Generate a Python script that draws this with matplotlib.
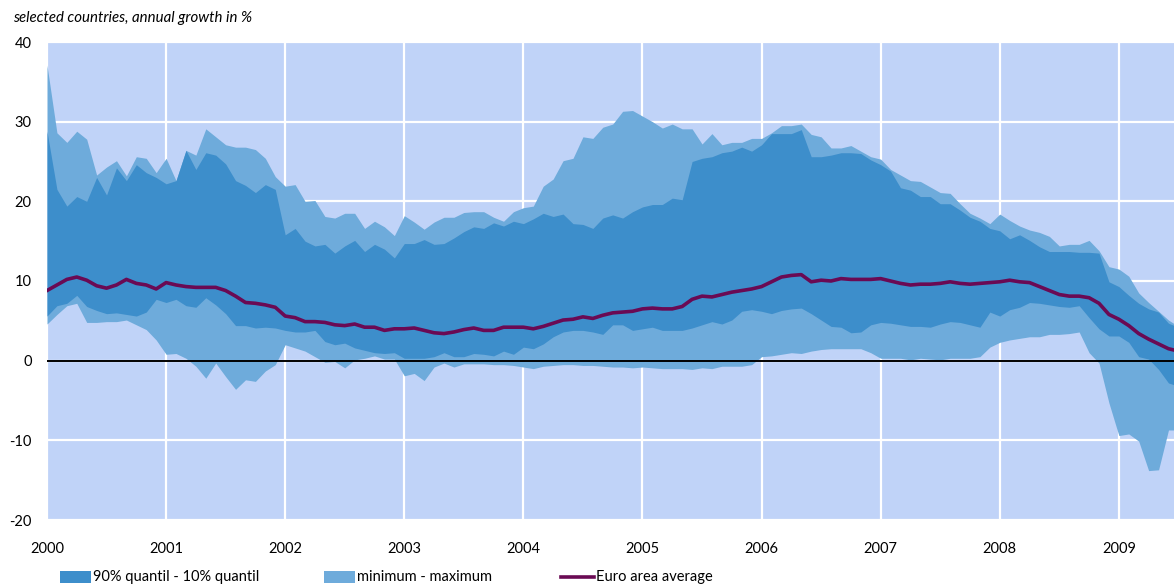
import numpy as np
import matplotlib.pyplot as plt
from matplotlib.patches import Rectangle
from matplotlib.lines import Line2D

# ---------------------------------------------------------------
# monthly data, Jan 2000 - Jul 2009 (annual growth in %)
# ---------------------------------------------------------------
start_year = 2000

maximum = [
    37.1, 28.6, 27.4, 28.8, 27.8, 23.3, 24.3, 25.1, 23.2, 25.6, 25.4, 23.6,
    25.4, 22.6, 26.4, 25.8, 29.1, 28.1, 27.1, 26.8, 26.8, 26.5, 25.4, 23.1,
    21.9, 22.1, 20.0, 20.1, 18.1, 17.9, 18.5, 18.5, 16.6, 17.5, 16.8, 15.7,
    18.2, 17.4, 16.5, 17.4, 18.0, 18.0, 18.6, 18.7, 18.7, 18.0, 17.5, 18.7,
    19.2, 19.4, 21.9, 22.8, 25.1, 25.4, 28.1, 27.9, 29.3, 29.7, 31.3, 31.4,
    30.7, 30.0, 29.2, 29.7, 29.1, 29.1, 27.2, 28.5, 27.1, 27.4, 27.4, 27.9,
    27.9, 28.6, 29.5, 29.5, 29.7, 28.4, 28.1, 26.7, 26.7, 27.0, 26.3, 25.6,
    25.3, 24.0, 23.3, 22.6, 22.5, 21.8, 21.1, 21.0, 19.7, 18.5, 17.9, 17.2,
    18.4, 17.6, 16.9, 16.4, 16.1, 15.6, 14.4, 14.6, 14.6, 15.1, 13.8, 11.8,
    11.5, 10.6, 8.5, 7.3, 6.2, 5.1, 4.3,
]

q90 = [
    28.8, 21.5, 19.4, 20.6, 20.0, 23.0, 20.8, 24.2, 22.6, 24.6, 23.6, 23.0,
    22.2, 22.6, 26.4, 24.0, 26.1, 25.8, 24.7, 22.6, 22.0, 21.1, 22.1, 21.5,
    15.8, 16.6, 15.0, 14.4, 14.6, 13.5, 14.4, 15.1, 13.7, 14.6, 14.0, 12.9,
    14.7, 14.7, 15.2, 14.6, 14.7, 15.4, 16.2, 16.8, 16.6, 17.3, 16.9, 17.5,
    17.2, 17.8, 18.5, 18.1, 18.4, 17.2, 17.1, 16.6, 17.9, 18.3, 17.9, 18.7,
    19.3, 19.6, 19.6, 20.4, 20.2, 25.0, 25.4, 25.6, 26.1, 26.3, 26.8, 26.3,
    27.1, 28.5, 28.5, 28.5, 29.0, 25.6, 25.6, 25.8, 26.1, 26.1, 26.0, 25.2,
    24.6, 23.8, 21.7, 21.4, 20.6, 20.6, 19.7, 19.7, 18.9, 18.0, 17.5, 16.6,
    16.3, 15.3, 15.8, 15.1, 14.3, 13.7, 13.7, 13.7, 13.6, 13.6, 13.5, 9.9,
    9.3, 8.2, 7.2, 6.5, 6.1, 4.7, 4.2,
]

euro_avg = [
    8.8, 9.5, 10.2, 10.5, 10.1, 9.4, 9.1, 9.5, 10.2, 9.7, 9.5, 9.0,
    9.8, 9.5, 9.3, 9.2, 9.2, 9.2, 8.8, 8.1, 7.3, 7.2, 7.0, 6.7,
    5.6, 5.4, 4.9, 4.9, 4.8, 4.5, 4.4, 4.6, 4.2, 4.2, 3.8, 4.0,
    4.0, 4.1, 3.8, 3.5, 3.4, 3.6, 3.9, 4.1, 3.8, 3.8, 4.2, 4.2,
    4.2, 4.0, 4.3, 4.7, 5.1, 5.2, 5.5, 5.3, 5.7, 6.0, 6.1, 6.2,
    6.5, 6.6, 6.5, 6.5, 6.8, 7.7, 8.1, 8.0, 8.3, 8.6, 8.8, 9.0,
    9.3, 9.9, 10.5, 10.7, 10.8, 9.9, 10.1, 10.0, 10.3, 10.2, 10.2, 10.2,
    10.3, 10.0, 9.7, 9.5, 9.6, 9.6, 9.7, 9.9, 9.7, 9.6, 9.7, 9.8,
    9.9, 10.1, 9.9, 9.8, 9.3, 8.8, 8.3, 8.1, 8.1, 7.9, 7.2, 5.8,
    5.2, 4.4, 3.4, 2.7, 2.1, 1.5, 1.2,
]

q10 = [
    5.6, 6.9, 7.2, 8.2, 6.8, 6.3, 5.9, 6.0, 5.8, 5.6, 6.1, 7.7,
    7.3, 7.7, 6.9, 6.7, 7.9, 7.0, 5.9, 4.4, 4.4, 4.1, 4.2, 4.1,
    3.8, 3.6, 3.6, 3.8, 2.4, 2.0, 2.2, 1.6, 1.3, 1.0, 0.9, 1.0,
    0.3, 0.3, 0.3, 0.5, 1.0, 0.5, 0.5, 0.9, 0.8, 0.6, 1.2, 0.8,
    1.7, 1.5, 2.1, 3.0, 3.6, 3.8, 3.8, 3.6, 3.3, 4.5, 4.5, 3.8,
    4.0, 4.2, 3.8, 3.8, 3.8, 4.1, 4.5, 4.9, 4.6, 5.1, 6.2, 6.4,
    6.2, 5.9, 6.3, 6.5, 6.6, 5.9, 5.1, 4.3, 4.2, 3.5, 3.6, 4.5,
    4.8, 4.7, 4.5, 4.3, 4.3, 4.2, 4.6, 4.9, 4.8, 4.5, 4.2, 6.1,
    5.6, 6.4, 6.7, 7.3, 7.2, 7.0, 6.8, 6.7, 6.9, 5.4, 4.0, 3.1,
    3.1, 2.3, 0.5, 0.2, -1.1, -2.8, -3.2,
]

minimum = [
    4.6, 5.8, 6.9, 7.2, 4.8, 4.8, 4.9, 4.9, 5.1, 4.5, 3.9, 2.6,
    0.8, 0.9, 0.3, -0.7, -2.2, -0.3, -2.0, -3.6, -2.4, -2.6, -1.3, -0.5,
    2.0, 1.6, 1.2, 0.5, -0.2, -0.1, -0.9, 0.1, 0.3, 0.6, 0.2, 0.2,
    -1.9, -1.6, -2.5, -0.8, -0.3, -0.8, -0.4, -0.4, -0.4, -0.5, -0.5, -0.6,
    -0.8, -1.0, -0.7, -0.6, -0.5, -0.5, -0.6, -0.6, -0.7, -0.8, -0.8, -0.9,
    -0.8, -0.9, -1.0, -1.0, -1.0, -1.1, -0.9, -1.0, -0.7, -0.7, -0.7, -0.5,
    0.5, 0.6, 0.8, 1.0, 0.9, 1.2, 1.4, 1.5, 1.5, 1.5, 1.5, 1.0,
    0.3, 0.3, 0.3, 0.1, 0.3, 0.2, 0.1, 0.3, 0.3, 0.3, 0.5, 1.7,
    2.3, 2.6, 2.8, 3.0, 3.0, 3.3, 3.3, 3.4, 3.6, 1.0, -0.3, -5.3,
    -9.4, -9.2, -10.1, -13.8, -13.7, -8.7, -8.7,
]

years = list(range(2000, 2010))
yticks = [-20, -10, 0, 10, 20, 30, 40]

title = "selected countries, annual growth in %"
lbl_quant = "90% quantil - 10% quantil"
lbl_minmax = "minimum - maximum"
lbl_avg = "Euro area average"

# colours
c_bg = "#c0d3f8"
c_minmax = "#6eabdb"
c_quant = "#3d8ecb"
c_avg = "#6a0a54"

plt.rcParams["font.family"] = ["Lato", "DejaVu Sans"]
plt.rcParams["axes.unicode_minus"] = False

W, H = 1174, 587
fig = plt.figure(figsize=(W / 100, H / 100), dpi=100)
ax = fig.add_axes([47 / W, 1 - 520 / H, (W - 47) / W, (520 - 42) / H])
ax.set_facecolor(c_bg)

x = start_year + np.arange(len(maximum)) / 12.0

ax.fill_between(x, minimum, maximum, color=c_minmax, lw=0, zorder=2)
ax.fill_between(x, q10, q90, color=c_quant, lw=0, zorder=3)
ax.axhline(0, color="black", lw=1.4, zorder=4)
ax.plot(x, euro_avg, color=c_avg, lw=2.6, zorder=5, solid_joinstyle="round")

ax.set_xlim(2000, 2009.463)
ax.set_ylim(-20, 40)
ax.set_xticks(years)
ax.set_xticklabels([str(y) for y in years])
ax.set_yticks(yticks)
ax.grid(True, color="white", lw=1.6, zorder=1)
ax.set_axisbelow(True)
for s in ax.spines.values():
    s.set_visible(False)
ax.tick_params(axis="both", length=0, labelsize=10.5, colors="black")
ax.tick_params(axis="y", pad=11)
ax.tick_params(axis="x", pad=16)

fig.text(13 / W, 1 - 18 / H, title, style="italic", fontsize=10.8, va="center")

# legend drawn by hand in figure pixels
ly = 577
def leg_patch(x0, color, text):
    fig.add_artist(Rectangle((x0 / W, 1 - (ly + 6) / H), 31 / W, 12 / H,
                             transform=fig.transFigure, color=color, lw=0))
    fig.text((x0 + 33) / W, 1 - ly / H, text, fontsize=10.5, va="center")

leg_patch(60, c_quant, lbl_quant)
leg_patch(324, c_minmax, lbl_minmax)
fig.add_artist(Line2D([561 / W, 594 / W], [1 - ly / H, 1 - ly / H],
                      transform=fig.transFigure, color=c_avg, lw=2.6))
fig.text(596 / W, 1 - ly / H, lbl_avg, fontsize=10.5, va="center")

fig.savefig("out.png", dpi=100)
